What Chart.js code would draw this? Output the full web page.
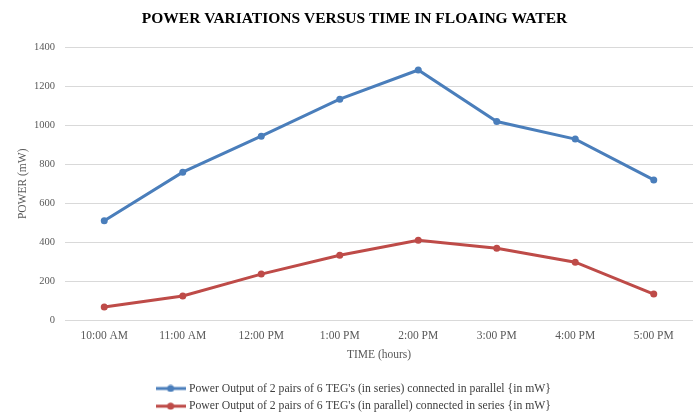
<!DOCTYPE html>
<html>
<head>
<meta charset="utf-8">
<script src="https://cdn.jsdelivr.net/npm/chart.js@4/dist/chart.umd.min.js"></script>
<style>
  html, body { margin: 0; padding: 0; background: #fff; }
  #wrap { width: 697px; height: 417px; }
</style>
</head>
<body>
<div id="wrap"><canvas id="myChart"></canvas></div>
<script>
const times = ['10:00 AM', '11:00 AM', '12:00 PM', '1:00 PM', '2:00 PM', '3:00 PM', '4:00 PM', '5:00 PM'];
const name1 = "Power Output of 2 pairs of 6 TEG's (in series) connected in parallel {in mW}";
const name2 = "Power Output of 2 pairs of 6 TEG's (in parallel) connected in series {in mW}";
const seriesParallel = [510, 760, 945, 1135, 1285, 1020, 930, 720];
const parallelSeries = [67, 123, 236, 333, 410, 369, 297, 133];
const color1 = '#4a7ebb';
const color2 = '#be4b48';

const serif = "'Liberation Serif', 'DejaVu Serif', serif";
const grey = '#595959';

// little "line with a dot" marker for the legend, like excel draws it
function legendMark(color) {
    const c = document.createElement('canvas');
    c.width = 30;
    c.height = 8;
    const ctx = c.getContext('2d');
    ctx.strokeStyle = color;
    ctx.lineWidth = 3;
    ctx.beginPath();
    ctx.moveTo(0, 4);
    ctx.lineTo(30, 4);
    ctx.stroke();
    ctx.fillStyle = color;
    ctx.beginPath();
    ctx.arc(15, 4, 3.5, 0, Math.PI * 2);
    ctx.fill();
    return c;
}

const data = {
    labels: times,
    datasets: [{
        label: name1,
        data: seriesParallel,
        borderColor: color1,
        backgroundColor: color1,
        borderWidth: 3,
        pointRadius: 3.5,
        pointBorderWidth: 0,
        pointHoverRadius: 4,
        tension: 0
    },
    {
        label: name2,
        data: parallelSeries,
        borderColor: color2,
        backgroundColor: color2,
        borderWidth: 3,
        pointRadius: 3.5,
        pointBorderWidth: 0,
        pointHoverRadius: 4,
        tension: 0
    }]
};

const marks = [legendMark(color1), legendMark(color2)];

const config = {
    type: 'line',
    data: data,
    options: {
        responsive: true,
        maintainAspectRatio: false,
        animation: false,
        layout: { padding: { left: 16, right: 4, top: 6, bottom: -5 } },
        plugins: {
            title: {
                display: true,
                text: 'POWER VARIATIONS VERSUS TIME IN FLOAING WATER',
                color: '#000',
                font: { family: serif, size: 15.5, weight: 'bold' },
                padding: { top: 4, bottom: 19 }
            },
            legend: {
                position: 'bottom',
                labels: {
                    color: '#404040',
                    font: { family: serif, size: 11.7 },
                    usePointStyle: true,
                    pointStyleWidth: 25,
                    boxHeight: 8,
                    padding: 6,
                    generateLabels: function(chart) {
                        const items = Chart.defaults.plugins.legend.labels.generateLabels(chart);
                        items.forEach((it, i) => { it.pointStyle = marks[i]; });
                        return items;
                    }
                }
            },
            tooltip: { enabled: false }
        },
        scales: {
            x: {
                offset: true,
                grid: { display: false },
                border: { display: false },
                ticks: { color: grey, font: { family: serif, size: 11.5 }, padding: 1 },
                title: {
                    display: true,
                    text: 'TIME (hours)',
                    color: grey,
                    font: { family: serif, size: 11.5 },
                    padding: { top: 4, bottom: 15 }
                }
            },
            y: {
                min: 0,
                max: 1400,
                grid: { color: '#d9d9d9', lineWidth: 1, drawTicks: false },
                border: { display: false },
                afterFit: function(scale) { scale.width = 49; },
                ticks: {
                    stepSize: 200,
                    color: grey,
                    font: { family: serif, size: 10.5 },
                    padding: 10,
                    callback: v => String(v)
                },
                title: {
                    display: true,
                    text: 'POWER (mW)',
                    color: grey,
                    font: { family: serif, size: 11.5 },
                    padding: { top: 0, bottom: 4 }
                }
            }
        }
    }
};

const myChart = new Chart(document.getElementById('myChart'), config);
</script>
</body>
</html>
